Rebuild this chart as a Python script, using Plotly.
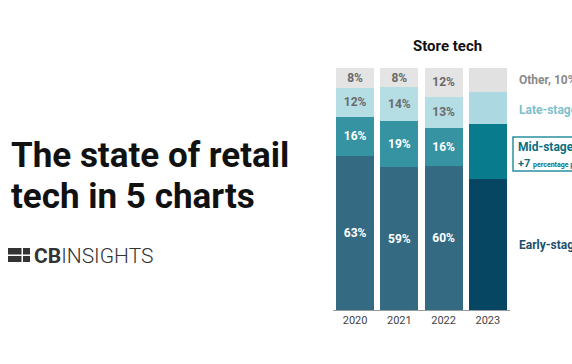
import plotly.graph_objects as go

W, H = 572, 364

years = ["2020", "2021", "2022", "2023"]
early = [63, 59, 60, 54]
mid = [16, 19, 16, 23]
late = [12, 14, 13, 13]
other = [8, 8, 12, 10]
show_labels = [True, True, True, False]

series_names = ["Early-stage", "Mid-stage", "Late-stage", "Other"]
colors = {
    "Early-stage": ["#356b82", "#356b82", "#356b82", "#064662"],
    "Mid-stage": ["#3693a2", "#3693a2", "#3693a2", "#087b8c"],
    "Late-stage": ["#b4dde4", "#b4dde4", "#b4dde4", "#acd9e1"],
    "Other": ["#e4e4e4", "#e4e4e4", "#e4e4e4", "#e1e1e1"],
}
text_colors = {
    "Early-stage": "#ffffff",
    "Mid-stage": "#ffffff",
    "Late-stage": "#6a6a6a",
    "Other": "#6a6a6a",
}
values = {"Early-stage": early, "Mid-stage": mid, "Late-stage": late, "Other": other}

def px(x):
    return x / W

def py(y):
    return 1 - y / H

fig = go.Figure()
for name in series_names:
    vals = values[name]
    fig.add_trace(go.Bar(
        x=years, y=vals, name=name,
        marker=dict(color=colors[name], line=dict(width=0)),
        text=[f"{v}%" if s else "" for v, s in zip(vals, show_labels)],
        textposition="inside", insidetextanchor="middle", textangle=0,
        textfont=dict(family="Roboto", size=12, color=text_colors[name], weight="bold"),
        hoverinfo="skip",
    ))

title_font = dict(family="Roboto", size=35, color="#111111", weight="bold")
annotations = [
    dict(x=px(9), y=py(155), xref="paper", yref="paper", xanchor="left", yanchor="middle",
         text="The state of retail", showarrow=False, font=title_font),
    dict(x=px(9), y=py(196), xref="paper", yref="paper", xanchor="left", yanchor="middle",
         text="tech in 5 charts", showarrow=False, font=title_font),
    dict(x=px(32), y=py(256), xref="paper", yref="paper", xanchor="left", yanchor="middle",
         text="<b>CB</b>INSIGHTS", showarrow=False,
         font=dict(family="Roboto", size=21, color="#333333", weight=300)),
    dict(x=px(447), y=py(46), xref="paper", yref="paper", xanchor="center", yanchor="middle",
         text="<b>Store tech</b>", showarrow=False,
         font=dict(family="Roboto", size=15, color="#111111")),
    dict(x=px(517), y=py(80), xref="paper", yref="paper", xanchor="left", yanchor="middle",
         text="<b>Other, 10%</b>", showarrow=False,
         font=dict(family="Roboto", size=12, color="#8a8a8a")),
    dict(x=px(517), y=py(110), xref="paper", yref="paper", xanchor="left", yanchor="middle",
         text="<b>Late-stage, 13%</b>", showarrow=False,
         font=dict(family="Roboto", size=12, color="#7cc0cc")),
    dict(x=px(516), y=py(147), xref="paper", yref="paper", xanchor="left", yanchor="middle",
         text="<b>Mid-stage, 23%</b>", showarrow=False,
         font=dict(family="Roboto", size=12, color="#0b6f80")),
    dict(x=px(516), y=py(163), xref="paper", yref="paper", xanchor="left", yanchor="middle",
         text="<b>+7</b> <span style='font-size:7px'><b>percentage points</b></span>", showarrow=False,
         font=dict(family="Roboto", size=11, color="#0b6f80")),
    dict(x=px(517), y=py(245), xref="paper", yref="paper", xanchor="left", yanchor="middle",
         text="<b>Early-stage, 54%</b>", showarrow=False,
         font=dict(family="Roboto", size=12, color="#1d4f6b")),
]

shapes = [
    dict(type="rect", xref="paper", yref="paper", x0=px(513), x1=px(620), y0=py(171), y1=py(137),
         line=dict(color="#2a8fa0", width=1.5), fillcolor="rgba(0,0,0,0)"),
    # CB Insights icon
    dict(type="rect", xref="paper", yref="paper", x0=px(8), x1=px(21.5), y0=py(254.5), y1=py(248),
         line=dict(width=0), fillcolor="#333333"),
    dict(type="rect", xref="paper", yref="paper", x0=px(8), x1=px(21.5), y0=py(262), y1=py(256),
         line=dict(width=0), fillcolor="#333333"),
    dict(type="rect", xref="paper", yref="paper", x0=px(23), x1=px(30), y0=py(254.5), y1=py(248),
         line=dict(width=0), fillcolor="#333333"),
    dict(type="rect", xref="paper", yref="paper", x0=px(23), x1=px(30), y0=py(262), y1=py(256),
         line=dict(width=0), fillcolor="#333333"),
]

fig.update_layout(
    width=W, height=H,
    margin=dict(l=0, r=0, t=0, b=0),
    paper_bgcolor="white", plot_bgcolor="white",
    barmode="stack", barnorm="percent", bargap=0.14,
    showlegend=False,
    uniformtext=dict(minsize=12, mode="show"),
    xaxis=dict(domain=[px(333), px(510)], type="category", range=[-0.5, 3.5],
               showline=True, linecolor="#9a9a9a", linewidth=1, ticks="",
               tickfont=dict(family="Roboto", size=11, color="#444444"), showgrid=False,
               fixedrange=True),
    yaxis=dict(domain=[py(310), py(68)], range=[0, 100], visible=False, showgrid=False,
               fixedrange=True),
    annotations=annotations,
    shapes=shapes,
)

fig.write_html(
    "out.html",
    config={"displayModeBar": False},
    post_script="document.body.style.margin='0';document.body.style.overflow='hidden';",
)
